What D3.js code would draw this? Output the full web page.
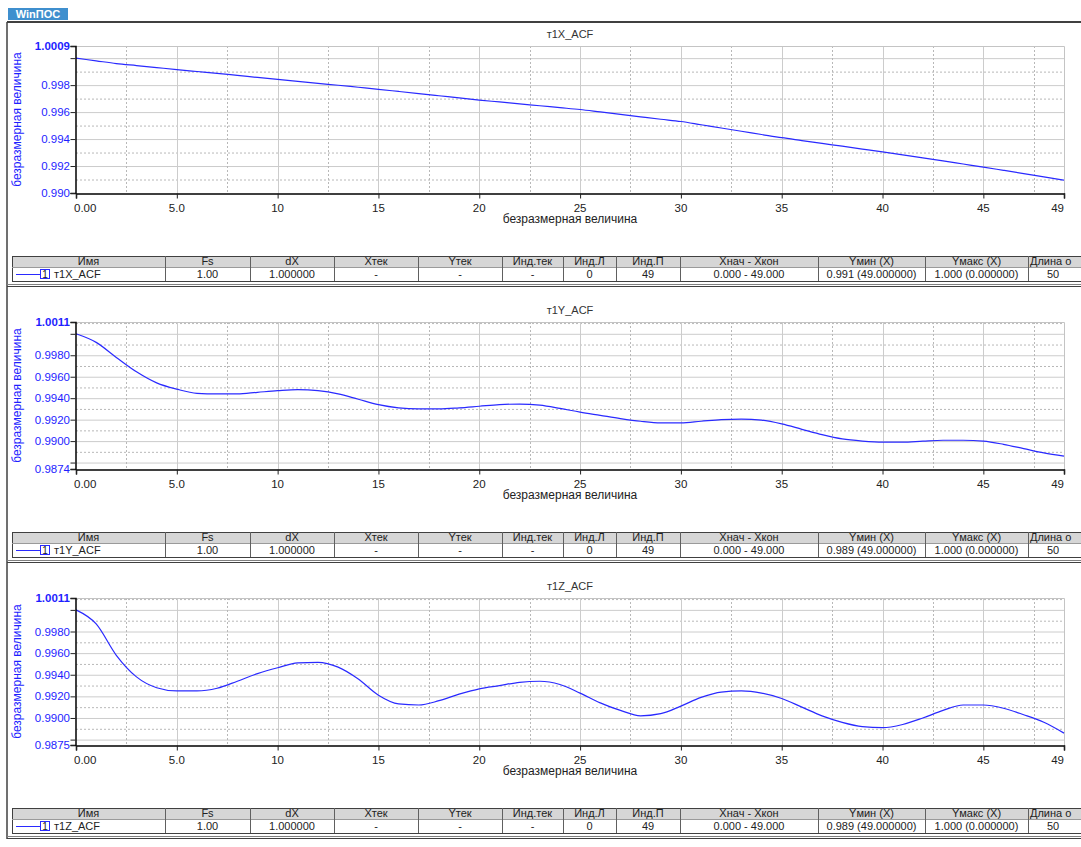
<!DOCTYPE html>
<html>
<head>
<meta charset="utf-8">
<script src="https://cdn.jsdelivr.net/npm/d3@7"></script>
<style>
body { margin: 0; background: #fff; }
svg { display: block; font-family: "Liberation Sans", Arial, sans-serif; }
</style>
</head>
<body>
<div id="chart"></div>
<script>
// lag index 0..49
const lags = d3.range(50);
const names = ["т1X_ACF", "т1Y_ACF", "т1Z_ACF"];

const acfX = [1.0000,0.9998,0.9996,0.99945,0.9993,0.99915,0.99901,0.99887,0.99872,0.99857,
  0.99842,0.99828,0.99813,0.99799,0.99784,0.99769,0.99753,0.99737,0.99721,0.99705,
  0.99689,0.99675,0.99661,0.99647,0.99633,0.99619,0.99601,0.99583,0.99565,0.99547,
  0.9953,0.99506,0.99482,0.99458,0.99434,0.9941,0.99389,0.99368,0.99347,0.99326,
  0.99305,0.99283,0.9926,0.99238,0.99215,0.99192,0.99168,0.99144,0.9912,0.99095];

const acfY = [1.0000,0.9992,0.9978,0.99646,0.99543,0.99484,0.99445,0.9944,0.9944,0.99455,
  0.9947,0.9948,0.9947,0.9944,0.9939,0.9934,0.9931,0.993,0.993,0.9931,
  0.99325,0.9934,0.99345,0.99335,0.99305,0.9927,0.9924,0.9921,0.99185,0.9917,
  0.9917,0.99185,0.992,0.99205,0.99195,0.9916,0.9911,0.9906,0.9902,0.9900,
  0.9899,0.9899,0.9900,0.99008,0.99008,0.9900,0.9897,0.9893,0.9889,0.9886];

const acfZ = [1.0000,0.9987,0.9958,0.9938,0.9928,0.9925,0.9925,0.99275,0.9934,0.9941,
  0.99465,0.9951,0.99515,0.9947,0.9936,0.9921,0.9913,0.9912,0.9916,0.9922,
  0.9927,0.9930,0.9933,0.9934,0.9931,0.9923,0.9914,0.9907,0.9902,0.9904,
  0.9911,0.9919,0.9924,0.9925,0.9923,0.9918,0.9910,0.9902,0.9896,0.9892,
  0.9891,0.9894,0.9900,0.9907,0.9912,0.9912,0.9909,0.9903,0.9896,0.9886];

const yDomains = [[0.990, 1.0009], [0.9874, 1.0011], [0.9875, 1.0011]];
const yDigits = [3, 4, 4];

const xTickValues = [0, 5, 10, 15, 20, 25, 30, 35, 40, 45, 49];
const xTickText = ["0.00", "5.0", "10", "15", "20", "25", "30", "35", "40", "45", "49"];

const tableHeaders = ["Имя", "Fs", "dX", "Xтек", "Yтек", "Инд.тек", "Инд.Л", "Инд.П", "Xнач - Xкон", "Yмин (X)", "Yмакс (X)", "Длина о"];
const tableRows = [
  ["1.00", "1.000000", "-", "-", "-", "0", "49", "0.000 - 49.000", "0.991 (49.000000)", "1.000 (0.000000)", "50"],
  ["1.00", "1.000000", "-", "-", "-", "0", "49", "0.000 - 49.000", "0.989 (49.000000)", "1.000 (0.000000)", "50"],
  ["1.00", "1.000000", "-", "-", "-", "0", "49", "0.000 - 49.000", "0.989 (49.000000)", "1.000 (0.000000)", "50"]
];
const colEdges = [12, 165, 250, 334, 418, 502, 563, 616, 680, 818, 925, 1028, 1095];

const width = 1081;
const height = 847;
const step = 276;
const plot = { left: 76, right: 1064, top: 46, bottom: 193 };
const blue = "#1e1eff";

const svg = d3.select("#chart")
  .append("svg")
  .attr("width", width)
  .attr("height", height);

// logo
svg.append("rect").attr("x", 8).attr("y", 8).attr("width", 60).attr("height", 12).attr("fill", "#3f8fce");
svg.append("text").attr("x", 38).attr("y", 18).attr("text-anchor", "middle")
  .attr("font-size", "11px").attr("font-weight", "bold").attr("fill", "#fff").text("WinПОС");

// outer frame: top of first panel and left edge
svg.append("line").attr("x1", 7).attr("x2", 1090).attr("y1", 22).attr("y2", 22)
  .attr("stroke", "#404040").attr("stroke-width", 2);
svg.append("line").attr("x1", 7).attr("x2", 7).attr("y1", 22).attr("y2", 2 * step + 287)
  .attr("stroke", "#404040").attr("stroke-width", 1.5);

const series = [acfX, acfY, acfZ];

series.forEach((vals, p) => {
  const g = svg.append("g").attr("transform", `translate(0,${p * step})`);

  const x = d3.scaleLinear().domain([0, 49]).range([plot.left, plot.right]);
  const y = d3.scaleLinear().domain(yDomains[p]).range([plot.bottom, plot.top]);
  const [lo, hi] = yDomains[p];

  const minorY = d3.range(Math.ceil(lo / 0.001 - 1e-6), Math.floor(hi / 0.001 + 1e-6) + 1).map(k => +(k * 0.001).toFixed(4));
  const majorY = minorY.filter(v => Math.round(v * 1000) % 2 === 0);
  const dottedY = minorY.filter(v => Math.round(v * 1000) % 2 !== 0);

  // grid
  const grid = g.append("g");
  grid.selectAll(".gy").data(majorY.filter(v => v > lo)).join("line")
    .attr("x1", plot.left).attr("x2", plot.right)
    .attr("y1", d => y(d) + 0.5).attr("y2", d => y(d) + 0.5)
    .attr("stroke", "#cccccc");
  grid.selectAll(".dy").data(dottedY).join("line")
    .attr("x1", plot.left).attr("x2", plot.right)
    .attr("y1", d => y(d) + 0.5).attr("y2", d => y(d) + 0.5)
    .attr("stroke", "#b8b8b8").attr("stroke-dasharray", "2,2");
  grid.selectAll(".gx").data(d3.range(5, 49, 5)).join("line")
    .attr("x1", d => Math.round(x(d)) + 0.5).attr("x2", d => Math.round(x(d)) + 0.5)
    .attr("y1", plot.top).attr("y2", plot.bottom)
    .attr("stroke", "#cccccc");
  grid.selectAll(".dx").data(d3.range(2.5, 49, 5)).join("line")
    .attr("x1", d => Math.round(x(d)) + 0.5).attr("x2", d => Math.round(x(d)) + 0.5)
    .attr("y1", plot.top).attr("y2", plot.bottom)
    .attr("stroke", "#b8b8b8").attr("stroke-dasharray", "2,2");
  grid.append("path")
    .attr("d", `M${plot.left},${plot.top + 0.5}H${plot.right + 0.5}V${plot.bottom}`)
    .attr("fill", "none").attr("stroke", "#c4c4c4");

  // title
  g.append("text").attr("x", (plot.left + plot.right) / 2).attr("y", 38)
    .attr("text-anchor", "middle").attr("font-size", "11px").attr("fill", "#333").text(names[p]);

  // series line
  const line = d3.line().x((d, i) => x(lags[i])).y(d => y(d)).curve(d3.curveMonotoneX);
  g.append("path").datum(vals).attr("d", line)
    .attr("fill", "none").attr("stroke", "#2a2aff").attr("stroke-width", 1.2);

  // y axis
  const yAxisG = g.append("g").attr("transform", `translate(${plot.left - 0.5},0)`);
  yAxisG.call(d3.axisLeft(y).tickValues(minorY).tickSize(3).tickFormat(""));
  yAxisG.call(d3.axisLeft(y).tickValues(majorY.concat([lo, hi])).tickSize(5).tickFormat(""));
  yAxisG.selectAll("path.domain").attr("stroke", "#000").attr("stroke-width", 1.5);
  yAxisG.selectAll(".tick line").attr("stroke", "#222");

  const fmt = d3.format(`.${yDigits[p]}f`);
  const labels = majorY.filter(v => y(v) - y(hi) >= 14 && (v === lo || y(lo) - y(v) >= 12));
  if (!labels.includes(lo)) labels.push(lo);
  g.selectAll(".ylab").data(labels).join("text")
    .attr("x", plot.left - 6).attr("y", d => y(d) + 4)
    .attr("text-anchor", "end").attr("font-size", "11.5px").attr("fill", blue)
    .text(d => fmt(d));
  g.append("text").attr("x", plot.left - 6).attr("y", y(hi) + 4)
    .attr("text-anchor", "end").attr("font-size", "11.5px").attr("font-weight", "bold").attr("fill", blue)
    .text(d3.format(".4f")(hi));

  g.append("text")
    .attr("transform", `translate(21,${(plot.top + plot.bottom) / 2}) rotate(-90)`)
    .attr("text-anchor", "middle").attr("font-size", "12px").attr("fill", blue)
    .text("безразмерная величина");

  // x axis
  const xAxisG = g.append("g").attr("transform", `translate(0,${plot.bottom + 0.5})`);
  xAxisG.call(d3.axisBottom(x).tickValues(d3.range(0, 49.01, 0.5)).tickSize(3).tickFormat(""));
  xAxisG.call(d3.axisBottom(x).tickValues(xTickValues).tickSize(5).tickFormat(""));
  xAxisG.selectAll("path.domain").attr("stroke", "#000").attr("stroke-width", 1.5);
  xAxisG.selectAll(".tick line").attr("stroke", "#222");

  g.selectAll(".xlab").data(xTickValues).join("text")
    .attr("x", d => x(d) + (d === 0 ? -2 : 0)).attr("y", 212)
    .attr("text-anchor", (d, i) => i === 0 ? "start" : (i === xTickValues.length - 1 ? "end" : "middle"))
    .attr("font-size", "11.5px").attr("fill", "#222")
    .text((d, i) => xTickText[i]);
  g.append("text").attr("x", (plot.left + plot.right) / 2).attr("y", 223)
    .attr("text-anchor", "middle").attr("font-size", "12px").attr("fill", "#222")
    .text("безразмерная величина");

  // table
  const t = g.append("g");
  const hTop = 256, hBot = 267, rBot = 281;
  t.append("rect").attr("x", colEdges[0]).attr("y", hTop).attr("width", 1090 - colEdges[0]).attr("height", hBot - hTop)
    .attr("fill", "#d6d6d6");
  t.append("rect").attr("x", colEdges[0]).attr("y", hBot).attr("width", 1090 - colEdges[0]).attr("height", rBot - hBot)
    .attr("fill", "#fff");
  t.append("rect").attr("x", colEdges[0] + 0.5).attr("y", hTop + 0.5).attr("width", 1090 - colEdges[0]).attr("height", rBot - hTop)
    .attr("fill", "none").attr("stroke", "#404040");
  t.append("line").attr("x1", colEdges[0]).attr("x2", 1090).attr("y1", hBot + 0.5).attr("y2", hBot + 0.5)
    .attr("stroke", "#9a9a9a");
  t.selectAll(".sep").data(colEdges.slice(1, -1)).join("line")
    .attr("x1", d => d + 0.5).attr("x2", d => d + 0.5).attr("y1", hTop).attr("y2", rBot)
    .attr("stroke", "#606060");
  t.selectAll(".hd").data(tableHeaders).join("text")
    .attr("x", (d, i) => i === 11 ? colEdges[i] + 2 : (colEdges[i] + colEdges[i + 1]) / 2)
    .attr("y", hBot - 2)
    .attr("text-anchor", (d, i) => i === 11 ? "start" : "middle")
    .attr("font-size", "11px").attr("fill", "#222").text(d => d);
  t.selectAll(".cell").data(tableRows[p]).join("text")
    .attr("x", (d, i) => (colEdges[i + 1] + (i === 10 ? colEdges[i + 1] + 50 : colEdges[i + 2])) / 2)
    .attr("y", rBot - 3)
    .attr("text-anchor", "middle").attr("font-size", "11px").attr("fill", "#222").text(d => d);
  // legend swatch in row
  t.append("line").attr("x1", 16).attr("x2", 40).attr("y1", (hBot + rBot) / 2 + 0.5).attr("y2", (hBot + rBot) / 2 + 0.5)
    .attr("stroke", "#2a2aff");
  t.append("rect").attr("x", 40.5).attr("y", hBot + 2.5).attr("width", 9).attr("height", 9)
    .attr("fill", "#fff").attr("stroke", "#2a2aff");
  t.append("text").attr("x", 45).attr("y", rBot - 3).attr("text-anchor", "middle")
    .attr("font-size", "10px").attr("fill", "#222").text("1");
  t.append("text").attr("x", 54).attr("y", rBot - 3)
    .attr("font-size", "11px").attr("fill", "#222").text(names[p]);

  // panel bottom double line
  g.append("line").attr("x1", 7).attr("x2", 1090).attr("y1", 284.5).attr("y2", 284.5).attr("stroke", "#808080");
  g.append("line").attr("x1", 7).attr("x2", 1090).attr("y1", 286.5).attr("y2", 286.5).attr("stroke", "#404040");
});
</script>
</body>
</html>
